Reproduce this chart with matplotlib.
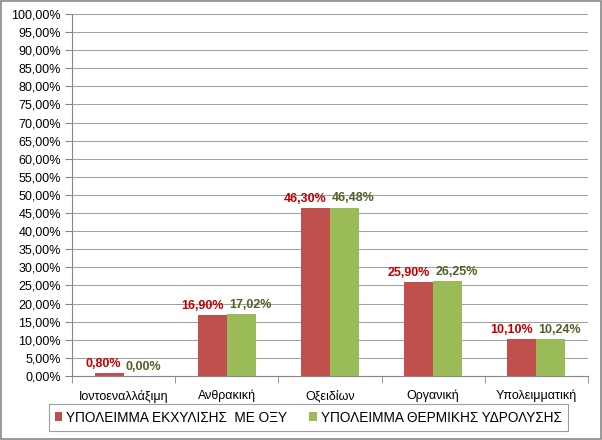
import matplotlib.pyplot as plt
import numpy as np
from matplotlib.ticker import FuncFormatter, MultipleLocator
from matplotlib.patches import Rectangle

categories = ['Ιοντοεναλλάξιμη', 'Ανθρακική', 'Οξειδίων', 'Οργανική', 'Υπολειμματική']
acid = [0.80, 16.90, 46.30, 25.90, 10.10]
hydro = [0.00, 17.02, 46.48, 26.25, 10.24]
series_names = ['ΥΠΟΛΕΙΜΜΑ ΕΚΧΥΛΙΣΗΣ  ΜΕ ΟΞΥ', 'ΥΠΟΛΕΙΜΜΑ ΘΕΡΜΙΚΗΣ ΥΔΡΟΛΥΣΗΣ']

plt.rcParams['font.family'] = ['Liberation Sans', 'DejaVu Sans']

fig = plt.figure(figsize=(6.02, 4.40), dpi=100)
fig.patches.append(Rectangle((0.002, 0.002), 0.996, 0.996, transform=fig.transFigure,
                             fill=False, edgecolor='#868686', linewidth=1.2))
ax = fig.add_axes([0.1196, 0.1455, 0.8571, 0.8227])

x = np.arange(len(categories))
w = 0.28
b1 = ax.bar(x - w / 2, acid, w, color='#C0504D', label=series_names[0], zorder=3)
b2 = ax.bar(x + w / 2, hydro, w, color='#9BBB59', label=series_names[1], zorder=3)

fmt = lambda v: ('%.2f%%' % v).replace('.', ',')
# labels pushed apart the way Excel does it
for xi, v in zip(x, acid):
    ax.text(xi - 0.03, v + 0.9, fmt(v), ha='right', va='bottom',
            color='#C00000', fontsize=9, fontweight='bold')
for xi, v in zip(x, hydro):
    ax.text(xi + 0.02, v + 0.9, fmt(v), ha='left', va='bottom',
            color='#4F6228', fontsize=9, fontweight='bold')

ax.set_xlim(-0.5, len(categories) - 0.5)
ax.set_ylim(0, 100)
ax.yaxis.set_major_locator(MultipleLocator(5))
ax.yaxis.set_major_formatter(FuncFormatter(lambda v, p: fmt(v)))
ax.grid(axis='y', color='#A0A0A0', linewidth=0.75, zorder=0)
ax.set_xticks(x)
ax.set_xticklabels(categories)
ax.set_xticks(np.arange(len(categories) + 1) - 0.5, minor=True)
ax.tick_params(axis='x', which='major', length=0, pad=10, labelsize=9)
ax.tick_params(axis='x', which='minor', length=5, color='#868686')
ax.tick_params(axis='y', length=5, color='#868686', labelsize=9, pad=3)
for s in ['top', 'right']:
    ax.spines[s].set_visible(False)
for s in ['left', 'bottom']:
    ax.spines[s].set_color('#868686')

leg = fig.legend(handles=[b1, b2], loc='center', bbox_to_anchor=(0.512, 0.051), ncol=2,
                 fontsize=9.8, frameon=True, fancybox=False, edgecolor='#868686',
                 handlelength=0.55, handleheight=0.6, handletextpad=0.3, columnspacing=1.6,
                 borderpad=0.45)
leg.get_frame().set_linewidth(0.8)

fig.savefig('out.png', dpi=100)
